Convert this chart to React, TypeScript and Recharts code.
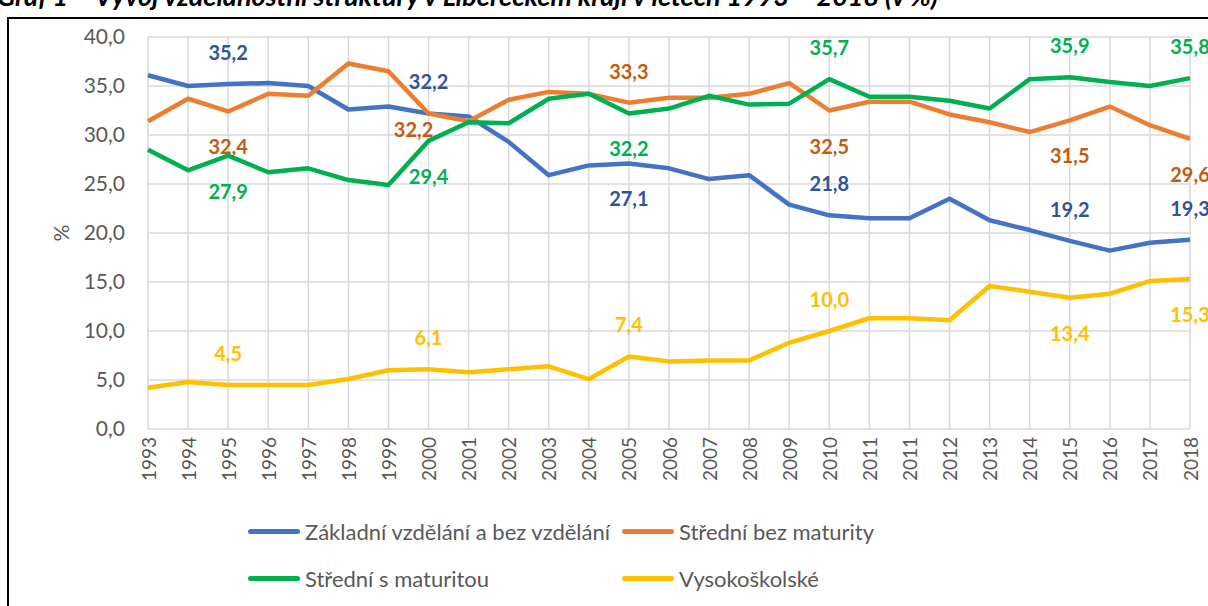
import { LineChart, Line, XAxis, YAxis, CartesianGrid, Legend, LabelList } from "recharts";

const years = [
  "1993", "1994", "1995", "1996", "1997", "1998", "1999", "2000", "2001", "2002",
  "2003", "2004", "2005", "2006", "2007", "2008", "2009", "2010", "2011", "2011",
  "2012", "2013", "2014", "2015", "2016", "2017", "2018",
];

const zakladni = [36.1, 35.0, 35.2, 35.3, 35.0, 32.6, 32.9, 32.2, 31.9, 29.3, 25.9, 26.9, 27.1, 26.6, 25.5, 25.9, 22.9, 21.8, 21.5, 21.5, 23.5, 21.3, 20.3, 19.2, 18.2, 19.0, 19.3];
const stredniBez = [31.4, 33.7, 32.4, 34.2, 34.0, 37.3, 36.5, 32.2, 31.4, 33.6, 34.4, 34.2, 33.3, 33.8, 33.8, 34.2, 35.3, 32.5, 33.4, 33.4, 32.1, 31.3, 30.3, 31.5, 32.9, 31.0, 29.6];
const stredniS = [28.5, 26.4, 27.9, 26.2, 26.6, 25.4, 24.9, 29.4, 31.3, 31.2, 33.7, 34.2, 32.2, 32.7, 34.0, 33.1, 33.2, 35.7, 33.9, 33.9, 33.5, 32.7, 35.7, 35.9, 35.4, 35.0, 35.8];
const vysoke = [4.2, 4.8, 4.5, 4.5, 4.5, 5.1, 6.0, 6.1, 5.8, 6.1, 6.4, 5.1, 7.4, 6.9, 7.0, 7.0, 8.8, 10.0, 11.3, 11.3, 11.1, 14.6, 14.0, 13.4, 13.8, 15.1, 15.3];

const yTicks = [0, 5, 10, 15, 20, 25, 30, 35, 40];

const series = [
  { key: "zakladni", name: "Základní vzdělání a bez vzdělání", color: "#4472C4", labelColor: "#2F5597" },
  { key: "stredniBez", name: "Střední bez maturity", color: "#ED7D31", labelColor: "#C55A11" },
  { key: "stredniS", name: "Střední s maturitou", color: "#00B050", labelColor: "#00B050" },
  { key: "vysoke", name: "Vysokoškolské", color: "#FFC000", labelColor: "#FFC000" },
];

// where each labelled point puts its value: [dx, dy] from the point
const UP = -32;
const DOWN = 35;
const labelPlaces: Record<string, Record<number, [number, number]>> = {
  zakladni: { 2: [0, UP], 7: [0, UP], 12: [0, DOWN], 17: [0, UP], 23: [0, UP], 26: [0, UP] },
  stredniBez: { 2: [0, DOWN], 7: [-15, 16], 12: [0, UP], 17: [0, DOWN], 23: [0, DOWN], 26: [0, DOWN] },
  stredniS: { 2: [0, DOWN], 7: [0, DOWN], 12: [0, DOWN], 17: [0, UP], 23: [0, UP], 26: [0, UP] },
  vysoke: { 2: [0, UP], 7: [0, UP], 12: [0, UP], 17: [0, UP], 23: [0, DOWN], 26: [0, DOWN] },
};

const data = years.map((y, i) => ({
  slot: i,
  zakladni: zakladni[i],
  stredniBez: stredniBez[i],
  stredniS: stredniS[i],
  vysoke: vysoke[i],
}));

const FONT = "Lato, 'Open Sans', sans-serif";
const fmt = (v: number) => v.toFixed(1).replace(".", ",");

const YearTick = (props: any) => {
  const { x, y, payload } = props;
  return (
    <text
      transform={`translate(${x},${y}) rotate(-90)`}
      textAnchor="end"
      dominantBaseline="central"
      fill="#595959"
      fontSize={19}
      fontFamily={FONT}
    >
      {years[Number(payload.value)]}
    </text>
  );
};

const makeLabel = (key: string, color: string) => (props: any) => {
  const place = labelPlaces[key][props.index];
  if (!place) return null;
  return (
    <text
      x={props.x + place[0]}
      y={props.y + place[1]}
      textAnchor="middle"
      dominantBaseline="central"
      fill={color}
      fontSize={20}
      fontWeight={700}
      fontFamily={FONT}
    >
      {fmt(Number(props.value))}
    </text>
  );
};

const LegendBox = () => (
  <div style={{ display: "grid", gridTemplateColumns: "374px 300px", rowGap: 21, fontFamily: FONT, fontSize: 22, color: "#595959" }}>
    {series.map((s) => (
      <div key={s.key} style={{ display: "flex", alignItems: "center", height: 26, whiteSpace: "nowrap" }}>
        <span style={{ display: "inline-block", width: 52, height: 5, borderRadius: 3, background: s.color, marginRight: 5 }} />
        {s.name}
      </div>
    ))}
  </div>
);

export default function App() {
  return (
    <div style={{ position: "absolute", left: 0, top: 0, width: 1208, height: 606, overflow: "hidden", background: "#fff" }}>
      <div
        style={{
          position: "absolute", left: -3, top: -18, whiteSpace: "nowrap",
          fontFamily: FONT, fontWeight: 700, fontStyle: "italic", fontSize: 27, lineHeight: "27px", color: "#000",
        }}
      >
        Graf 1 – Vývoj vzdělanostní struktury v Libereckém kraji v letech 1993 – 2018 (v %)
      </div>
      <div style={{ position: "absolute", left: 7, top: 17, width: 1400, height: 800, border: "2px solid #000", background: "#fff" }} />
      <div style={{ position: "absolute", left: 0, top: 0 }}>
        <LineChart width={1208} height={606} data={data} margin={{ top: 37, right: 18, left: 0, bottom: 0 }}>
          <CartesianGrid stroke="#D9D9D9" strokeWidth={1.5} />
          <XAxis
            dataKey="slot"
            type="category"
            interval={0}
            height={177}
            tickSize={0}
            tickMargin={8}
            axisLine={false}
            tickLine={false}
            tick={<YearTick />}
          />
          <YAxis
            domain={[0, 40]}
            ticks={yTicks}
            width={148}
            tickSize={0}
            tickMargin={23}
            axisLine={false}
            tickLine={false}
            tickFormatter={fmt}
            tick={{ fill: "#595959", fontSize: 21, fontFamily: FONT }}
            label={{
              value: "%",
              content: () => (
                <text transform="translate(60,233) rotate(-90)" textAnchor="middle" dominantBaseline="central" fill="#595959" fontSize={21} fontFamily={FONT}>
                  %
                </text>
              ),
            }}
          />
          <Legend
            layout="horizontal"
            verticalAlign="middle"
            align="center"
            content={<LegendBox />}
            wrapperStyle={{ left: 248, top: 518, width: 700 }}
          />
          {series.map((s) => (
            <Line
              key={s.key}
              dataKey={s.key}
              name={s.name}
              type="linear"
              stroke={s.color}
              strokeWidth={4.5}
              strokeLinejoin="round"
              dot={false}
              isAnimationActive={false}
            >
              <LabelList dataKey={s.key} content={makeLabel(s.key, s.labelColor)} />
            </Line>
          ))}
        </LineChart>
      </div>
    </div>
  );
}
